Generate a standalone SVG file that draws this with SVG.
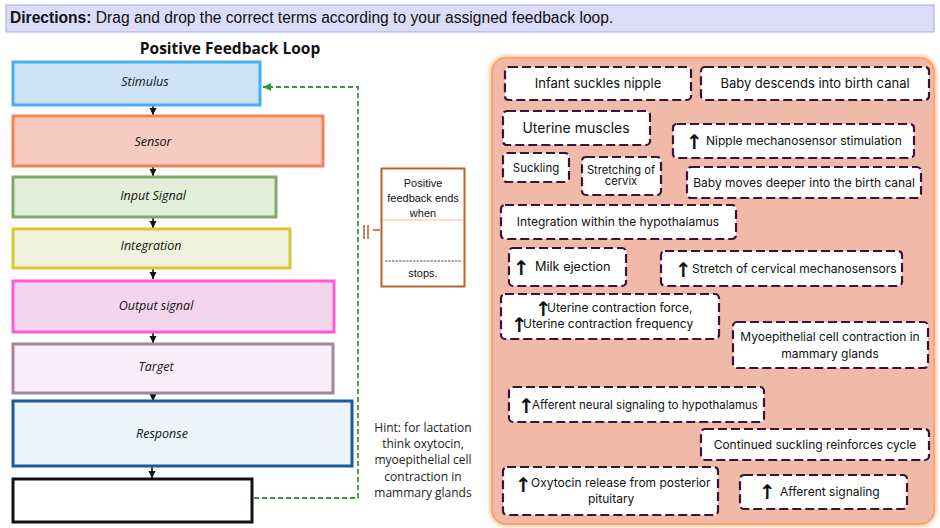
<svg xmlns="http://www.w3.org/2000/svg" width="940" height="528" viewBox="0 0 940 528">
<defs>
<style>
.box{stroke-width:3}
.lbl{font-family:"Open Sans",sans-serif;font-style:italic;font-size:12.5px;fill:#111;text-anchor:middle}
.card{fill:#fff;stroke:#3a1438;stroke-width:2.2;stroke-dasharray:9 4}
.ct{font-family:Inter,"Liberation Sans",sans-serif;font-size:12px;fill:#111;text-anchor:middle}
.cs{font-family:Inter,"Liberation Sans",sans-serif;font-size:12px;fill:#111;text-anchor:start}
.ar{font-family:"DejaVu Sans",sans-serif;font-size:20px;font-weight:bold}
.flow{stroke:#111;stroke-width:1.6;fill:none}
</style>
<marker id="ah" markerWidth="8" markerHeight="8" refX="7" refY="4" orient="auto" markerUnits="userSpaceOnUse">
<path d="M0,0.5 L7,4 L0,7.5 Z" fill="#111"/>
</marker>
<marker id="gh" markerWidth="9" markerHeight="9" refX="8" refY="4.5" orient="auto" markerUnits="userSpaceOnUse">
<path d="M0,0.5 L8,4.5 L0,8.5 Z" fill="#2e9a3a"/>
</marker>
<filter id="glow" x="-5%" y="-5%" width="110%" height="110%">
<feGaussianBlur stdDeviation="2"/>
</filter>
</defs>
<rect width="940" height="528" fill="#fff"/>
<g id="header">
<rect x="6" y="5" width="928" height="27" fill="#dcdcf8" stroke="#a8a8e6" stroke-width="1"/>
<text x="10" y="23" font-family="Liberation Sans,Arial,sans-serif" font-size="15.6" fill="#111"><tspan font-weight="bold">Directions:</tspan> Drag and drop the correct terms according to your assigned feedback loop.</text>
</g>
<text id="title" x="230" y="54" font-family="Open Sans,sans-serif" font-weight="bold" font-size="15.5" text-anchor="middle" fill="#111">Positive Feedback Loop</text>
<g id="connectors">
<line class="flow" x1="153" y1="106" x2="153" y2="115" marker-end="url(#ah)"/>
<line class="flow" x1="153" y1="167" x2="153" y2="176" marker-end="url(#ah)"/>
<line class="flow" x1="153" y1="218" x2="153" y2="228" marker-end="url(#ah)"/>
<line class="flow" x1="153" y1="269" x2="153" y2="279" marker-end="url(#ah)"/>
<line class="flow" x1="153" y1="333" x2="153" y2="343" marker-end="url(#ah)"/>
<line class="flow" x1="153" y1="394" x2="153" y2="401" marker-end="url(#ah)"/>
<line class="flow" x1="152" y1="467" x2="152" y2="478" marker-end="url(#ah)"/>
<path d="M254,498 H358 V87 H263" fill="none" stroke="#2e9a3a" stroke-width="1.8" stroke-dasharray="5 3" marker-end="url(#gh)"/>
<g stroke="#b8652a" stroke-width="1.6">
<line x1="364" y1="225" x2="364" y2="239"/>
<line x1="368" y1="225" x2="368" y2="239"/>
<line x1="373" y1="230" x2="380" y2="230"/>
</g>
</g>
<g id="stimulus"><rect class="box" x="13" y="62" width="247" height="43" fill="#cfe2f3" stroke="#3fb0f0"/><text class="lbl" x="145" y="86">Stimulus</text></g>
<g id="sensor"><rect class="box" x="13" y="116" width="310" height="50" fill="#f4ccc0" stroke="#f4805c"/><text class="lbl" x="153" y="146">Sensor</text></g>
<g id="input"><rect class="box" x="13" y="177" width="263" height="40" fill="#e2efda" stroke="#82aa66"/><text class="lbl" x="153" y="200">Input Signal</text></g>
<g id="integration"><rect class="box" x="13" y="229" width="277" height="39" fill="#eef2dc" stroke="#d6c832"/><text class="lbl" x="151" y="250">Integration</text></g>
<g id="output"><rect class="box" x="13" y="281" width="321" height="51" fill="#f2d5ef" stroke="#ff5ad6"/><text class="lbl" x="156" y="310">Output signal</text></g>
<g id="target"><rect class="box" x="13" y="344" width="320" height="49" fill="#fbeefa" stroke="#a08898"/><text class="lbl" x="156" y="371">Target</text></g>
<g id="response"><rect class="box" x="13" y="401" width="339" height="65" fill="#edf3fb" stroke="#1a5ba0"/><text class="lbl" x="162" y="438">Response</text></g>
<g id="blank"><rect class="box" x="13" y="479" width="239" height="43" fill="#fff" stroke="#111"/></g>
<g id="ends">
<rect x="381.5" y="168.5" width="83" height="118" fill="#fff" stroke="#b8652a" stroke-width="2"/>
<line x1="383" y1="220" x2="463" y2="220" stroke="#f4c0a0" stroke-width="1.2"/>
<line x1="385" y1="261" x2="461" y2="261" stroke="#555" stroke-width="1" stroke-dasharray="2.5 1"/>
<g font-family="Liberation Sans,Arial,sans-serif" font-size="11" text-anchor="middle" fill="#111">
<text x="423" y="187">Positive</text>
<text x="423" y="202">feedback ends</text>
<text x="423" y="217">when</text>
<text x="423" y="277">stops.</text>
</g>
</g>
<g id="hint" font-family="Open Sans,sans-serif" font-size="12" text-anchor="middle" fill="#222">
<text x="423" y="432">Hint: for lactation</text>
<text x="423" y="448">think oxytocin,</text>
<text x="423" y="464">myoepithelial cell</text>
<text x="423" y="481">contraction in</text>
<text x="423" y="497">mammary glands</text>
</g>
<g id="panel">
<rect x="492" y="58" width="442" height="466" rx="14" fill="none" stroke="#fbb27a" stroke-width="4" filter="url(#glow)"/>
<rect x="492" y="58" width="442" height="466" rx="14" fill="#f0b9a8" stroke="#f6a46c" stroke-width="1.8"/>
</g>
<g id="c1"><rect class="card" x="505" y="67" width="186" height="33" rx="4"/><text class="ct" x="598" y="88" style="font-size:13px">Infant suckles nipple</text></g>
<g id="c2"><rect class="card" x="701" y="67" width="228" height="33" rx="4"/><text class="ct" x="815" y="88" style="font-size:13px">Baby descends into birth canal</text></g>
<g id="c3"><rect class="card" x="503" y="111" width="147" height="34" rx="4"/><text class="ct" x="576" y="133" style="font-size:14px">Uterine muscles</text></g>
<g id="c4"><rect class="card" x="673" y="124" width="241" height="34" rx="4"/><text class="cs" x="686" y="145"><tspan class="ar" dy="4">↑</tspan><tspan x="706" dy="-4">Nipple mechanosensor stimulation</tspan></text></g>
<g id="c5"><rect class="card" x="503" y="153" width="66" height="29" rx="4"/><text class="ct" x="536" y="172" style="font-size:11.5px">Suckling</text></g>
<g id="c6"><rect class="card" x="582" y="157" width="79" height="38" rx="4"/><text class="ct" x="621" y="174" style="font-size:11.2px">Stretching of<tspan x="621" dy="11">cervix</tspan></text></g>
<g id="c7"><rect class="card" x="687" y="167" width="234" height="31" rx="4"/><text class="ct" x="804" y="187">Baby moves deeper into the birth canal</text></g>
<g id="c8"><rect class="card" x="501" y="205" width="235" height="34" rx="4"/><text class="ct" x="618" y="226">Integration within the hypothalamus</text></g>
<g id="c9"><rect class="card" x="509" y="248" width="117" height="38" rx="4"/><text class="cs" x="513" y="271"><tspan class="ar" dy="4">↑</tspan><tspan x="535" dy="-4" style="font-size:12.7px">Milk ejection</tspan></text></g>
<g id="c10"><rect class="card" x="661" y="251" width="241" height="35" rx="4"/><text class="cs" x="675" y="273"><tspan class="ar" dy="4">↑</tspan><tspan x="692" dy="-4">Stretch of cervical mechanosensors</tspan></text></g>
<g id="c11"><rect class="card" x="501" y="294" width="218" height="45" rx="4"/><text class="cs" x="535" y="312"><tspan class="ar" dy="4">↑</tspan><tspan x="547" dy="-4">Uterine contraction force,</tspan><tspan class="ar" x="511" dy="20">↑</tspan><tspan x="523" dy="-4">Uterine contraction frequency</tspan></text></g>
<g id="c12"><rect class="card" x="733" y="322" width="195" height="46" rx="4"/><text class="ct" x="830" y="341">Myoepithelial cell contraction in<tspan x="830" dy="17">mammary glands</tspan></text></g>
<g id="c13"><rect class="card" x="509" y="387" width="255" height="35" rx="4"/><text class="cs" x="518" y="409"><tspan class="ar" dy="4">↑</tspan><tspan x="532" dy="-4" style="font-size:11.5px">Afferent neural signaling to hypothalamus</tspan></text></g>
<g id="c14"><rect class="card" x="701" y="429" width="228" height="31" rx="4"/><text class="ct" x="815" y="449">Continued suckling reinforces cycle</text></g>
<g id="c15"><rect class="card" x="503" y="467" width="215" height="48" rx="4"/><text class="cs" x="515" y="487"><tspan class="ar" dy="5">↑</tspan><tspan x="531" dy="-5">Oxytocin release from posterior</tspan><tspan x="588" dy="16">pituitary</tspan></text></g>
<g id="c16"><rect class="card" x="740" y="475" width="167" height="34" rx="4"/><text class="cs" x="759" y="496"><tspan class="ar" dy="3">↑</tspan><tspan x="780" dy="-3">Afferent signaling</tspan></text></g>
</svg>
